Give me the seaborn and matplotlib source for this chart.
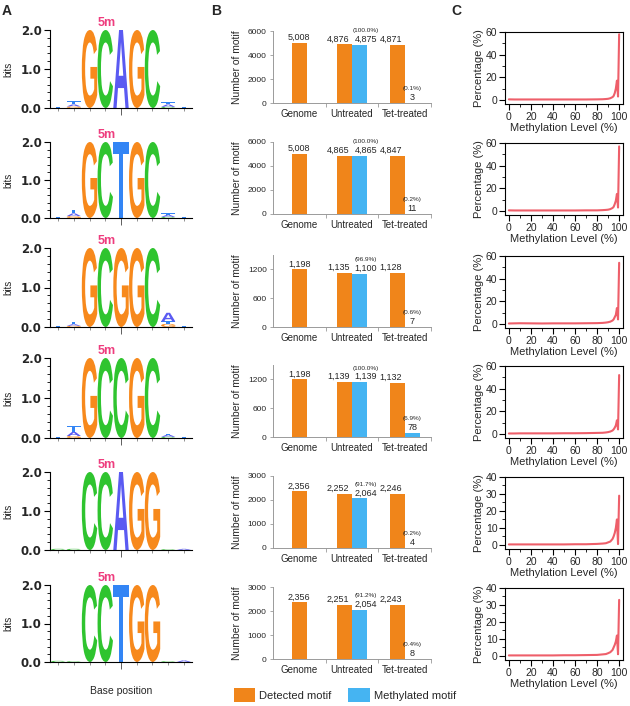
import numpy as np
import pandas as pd
import matplotlib
matplotlib.use("Agg")
import matplotlib.pyplot as plt
import seaborn as sns
from matplotlib.textpath import TextPath
from matplotlib.patches import PathPatch, Patch
from matplotlib.font_manager import FontProperties
import matplotlib.transforms as mtransforms
from matplotlib.ticker import MultipleLocator, FixedLocator

# ---------------- data ----------------
motifs = ["GCAGC", "GCTGC", "GCGGC", "GCCGC", "CCAGG", "CCTGG"]
core_bits = [2.0, 2.0, 2.0, 2.0, 2.0, 2.0]
# small flanking stacks (bottom -> top) at positions 1, 2, 8, 9
flank1 = [[("T", 0.02)], [("T", 0.02)], [("T", 0.02)], [("T", 0.02)], [("C", 0.03)], [("C", 0.03)]]
flank2 = [[("G", 0.04), ("A", 0.05), ("T", 0.08)],
          [("G", 0.05), ("A", 0.07), ("T", 0.10)],
          [("G", 0.03), ("A", 0.04), ("T", 0.06)],
          [("G", 0.05), ("A", 0.10), ("T", 0.14)],
          [("C", 0.03)], [("C", 0.02)]]
flank8 = [[("C", 0.03), ("A", 0.06), ("T", 0.06)],
          [("C", 0.03), ("A", 0.05), ("T", 0.04)],
          [("G", 0.08), ("T", 0.06), ("A", 0.22)],
          [("C", 0.03), ("A", 0.05), ("T", 0.03)],
          [("C", 0.02)], [("C", 0.02)]]
flank9 = [[("T", 0.02)], [("T", 0.02)], [("T", 0.02)], [("T", 0.02)], [("A", 0.03)], [("A", 0.04)]]

categories = ["Genome", "Untreated", "Tet-treated"]
genome = [5008, 5008, 1198, 1198, 2356, 2356]
untreated_detected = [4876, 4865, 1135, 1139, 2252, 2251]
untreated_methylated = [4875, 4865, 1100, 1139, 2064, 2054]
tet_detected = [4871, 4847, 1128, 1132, 2246, 2243]
tet_methylated = [3, 11, 7, 78, 4, 8]
bar_yticks = [[0, 2000, 4000, 6000], [0, 2000, 4000, 6000], [0, 600, 1200], [0, 600, 1200],
              [0, 1000, 2000, 3000], [0, 1000, 2000, 3000]]
bar_ymax = [6000, 6000, 1500, 1500, 3000, 3000]

meth_level = [0, 5, 10, 20, 30, 40, 50, 60, 70, 80, 85, 88, 90, 92, 94, 95, 96, 97, 98, 99, 100]
pct_rows = [
    [0.5, 0.4, 0.4, 0.4, 0.4, 0.4, 0.4, 0.4, 0.4, 0.5, 0.6, 0.8, 1.0, 1.5, 2.5, 3.5, 6.0, 10.0, 17.0, 3.0, 58.0],
    [0.5, 0.4, 0.4, 0.4, 0.4, 0.4, 0.4, 0.4, 0.5, 0.5, 0.7, 0.9, 1.1, 1.6, 2.6, 3.6, 6.0, 9.0, 15.0, 3.0, 57.0],
    [0.4, 0.5, 0.6, 0.5, 0.4, 0.5, 0.5, 0.5, 0.6, 0.7, 0.9, 1.2, 1.5, 2.0, 3.0, 4.0, 6.0, 8.0, 14.0, 4.0, 54.0],
    [0.4, 0.4, 0.5, 0.5, 0.5, 0.5, 0.6, 0.6, 0.7, 0.9, 1.0, 1.3, 1.6, 2.1, 3.0, 4.0, 5.5, 7.5, 12.0, 4.0, 52.0],
    [0.3, 0.3, 0.3, 0.3, 0.3, 0.3, 0.3, 0.4, 0.4, 0.6, 0.8, 1.0, 1.5, 2.0, 3.5, 5.0, 7.0, 10.0, 15.0, 0.5, 29.0],
    [0.3, 0.3, 0.3, 0.3, 0.3, 0.3, 0.4, 0.4, 0.5, 0.6, 0.9, 1.1, 1.6, 2.2, 3.5, 5.0, 6.5, 8.5, 12.0, 1.0, 33.0],
]
pct_yticks = [[0, 20, 40, 60]] * 4 + [[0, 10, 20, 30, 40]] * 2
pct_ymax = [60, 60, 60, 60, 40, 40]

# ---------------- style ----------------
sns.set_theme(style="ticks")
plt.rcParams["font.family"] = ["Liberation Sans", "DejaVu Sans"]

letter_colors = {"G": "#F7891C", "C": "#2FC42F", "A": "#5A5AF2", "T": "#3385F5"}
ORANGE = "#F0851A"
BLUE = "#45B4F2"
LINE = "#EE5F6A"

W, H = 630, 706
fig = plt.figure(figsize=(W / 100, H / 100), dpi=100)


def rect(l, t, r, b):
    return [l / W, 1 - b / H, (r - l) / W, (b - t) / H]


fp_logo = FontProperties(family="Liberation Sans", weight="bold")


def draw_letter(ax, ch, xc, y0, w, h, color):
    if h <= 0:
        return
    tp = TextPath((0, 0), ch, size=1, prop=fp_logo)
    bb = tp.get_extents()
    t = (mtransforms.Affine2D().translate(-bb.x0, -bb.y0)
         .scale(w / bb.width, h / bb.height).translate(xc - w / 2, y0))
    ax.add_patch(PathPatch(t.transform_path(tp), fc=color, ec="none", lw=0))


def draw_stack(ax, pos, stack, w):
    y = 0.0
    for ch, h in stack:
        draw_letter(ax, ch, pos, y, w, h, letter_colors[ch])
        y += h


logo_tops = [30, 142, 248, 358, 472, 585]
logo_bots = [108, 218, 327, 438, 550, 662]
bar_bots = [103, 214, 327, 437, 548, 659]

for i in range(6):
    # ---------- A: sequence logo ----------
    ax = fig.add_axes(rect(50, logo_tops[i], 192, logo_bots[i]))
    ax.set_xlim(0.49, 9.51)
    ax.set_ylim(0, 2.0)
    for k, ch in enumerate(motifs[i]):
        draw_letter(ax, ch, 3 + k, 0, 0.98, core_bits[i], letter_colors[ch])
    draw_stack(ax, 1, flank1[i], 0.9)
    draw_stack(ax, 2, flank2[i], 0.9)
    draw_stack(ax, 8, flank8[i], 0.9)
    draw_stack(ax, 9, flank9[i], 0.9)
    ax.text(4.1, 2.02, "5m", color="#EE3D7E", fontsize=9, fontweight="bold",
            ha="center", va="bottom", clip_on=False)
    sns.despine(ax=ax)
    for s in ("left", "bottom"):
        ax.spines[s].set_color("black")
        ax.spines[s].set_linewidth(0.8)
    ax.yaxis.set_major_locator(FixedLocator([0, 1, 2]))
    ax.yaxis.set_minor_locator(MultipleLocator(0.2))
    ax.set_yticklabels(["0.0", "1.0", "2.0"], fontsize=8.5, fontweight="bold",
                       family="DejaVu Sans")
    ax.xaxis.set_major_locator(FixedLocator([5]))
    ax.xaxis.set_minor_locator(FixedLocator([1, 2, 3, 4, 6, 7, 8, 9]))
    ax.set_xticklabels([])
    ax.tick_params(axis="y", which="major", length=4, width=0.8, color="black", pad=2)
    ax.tick_params(axis="y", which="minor", length=2, width=0.6, color="black")
    ax.tick_params(axis="x", which="major", length=5, width=0.6, color="#444444")
    ax.tick_params(axis="x", which="minor", length=2.5, width=0.5, color="#666666")
    ax.set_ylabel("bits", fontsize=7, labelpad=1)
    ax.yaxis.set_label_coords(-0.26, 0.5)
    ax.set_facecolor("none")
    if i == 5:
        ax.set_xlabel("Base position", fontsize=7.5, labelpad=9)

    # ---------- B: bar chart ----------
    bx = fig.add_axes(rect(273, bar_bots[i] - 72, 431, bar_bots[i]))
    bw = 0.285
    det = [genome[i], untreated_detected[i], tet_detected[i]]
    met = [None, untreated_methylated[i], tet_methylated[i]]
    xs_det = [0, 1 - bw / 2, 2 - bw / 2]
    xs_met = [1 + bw / 2, 2 + bw / 2]
    bx.bar(xs_det, det, width=bw, color=ORANGE, linewidth=0)
    bx.bar(xs_met, met[1:], width=bw, color=BLUE, linewidth=0)
    for j, (xv, v) in enumerate(zip(xs_det, det)):
        dx = 0 if j == 0 else -4.5
        bx.annotate(f"{v:,}", (xv, v), xytext=(dx, 0.8), textcoords="offset points",
                    ha="center", va="bottom", fontsize=6.5)
    for j, (xv, v, d) in enumerate(zip(xs_met, met[1:], det[1:])):
        dx = 4.5 if j == 0 else 0
        bx.annotate(f"{v:,}", (xv, v), xytext=(dx, 0.8), textcoords="offset points",
                    ha="center", va="bottom", fontsize=6.5)
        bx.annotate(f"({100 * v / d:.1f}%)", (xv, v), xytext=(dx, 8.5), textcoords="offset points",
                    ha="center", va="bottom", fontsize=4.6)
    bx.set_xlim(-0.5, 2.5)
    bx.set_ylim(0, bar_ymax[i])
    bx.set_yticks(bar_yticks[i])
    bx.set_yticklabels([str(t) for t in bar_yticks[i]], fontsize=6)
    bx.set_xticks([0, 1, 2])
    bx.set_xticklabels(categories, fontsize=7)
    bx.xaxis.set_minor_locator(FixedLocator([0.5, 1.5, 2.5]))
    bx.tick_params(axis="x", which="major", length=0, pad=4)
    bx.tick_params(axis="x", which="minor", length=3, width=0.6, color="#9A9A9A")
    bx.tick_params(axis="y", length=2.5, width=0.6, color="#9A9A9A", pad=2)
    sns.despine(ax=bx)
    for s in ("left", "bottom"):
        bx.spines[s].set_color("#9A9A9A")
        bx.spines[s].set_linewidth(0.7)
    bx.set_ylabel("Number of motif", fontsize=7.5, labelpad=2)
    bx.yaxis.set_label_coords(-0.195, 0.5)
    bx.set_facecolor("none")

    # ---------- C: methylation level distribution ----------
    cx = fig.add_axes(rect(505, bar_bots[i] - 71, 623, bar_bots[i] + 1))
    df = pd.DataFrame({"level": meth_level, "pct": pct_rows[i]})
    sns.lineplot(data=df, x="level", y="pct", ax=cx, color=LINE, lw=1.5)
    cx.set_xlim(-3.5, 103.5)
    cx.set_ylim(-0.06 * pct_ymax[i], pct_ymax[i])
    cx.set_xticks([0, 20, 40, 60, 80, 100])
    cx.set_yticks(pct_yticks[i])
    cx.xaxis.set_minor_locator(MultipleLocator(10))
    cx.yaxis.set_minor_locator(MultipleLocator(pct_yticks[i][1] / 2))
    cx.tick_params(axis="both", which="major", labelsize=7.5, length=4, width=0.8,
                   color="black", pad=1.5)
    cx.tick_params(axis="both", which="minor", length=2, width=0.6, color="black")
    for s in cx.spines.values():
        s.set_visible(True)
        s.set_color("black")
        s.set_linewidth(0.8)
    cx.set_xlabel("Methylation Level (%)", fontsize=8, labelpad=1)
    cx.set_ylabel("Percentage (%)", fontsize=8, labelpad=1)
    cx.set_facecolor("none")

# panel letters
fig.text(2 / W, 1 - 11 / H, "A", fontsize=10, fontweight="bold", va="center", ha="left")
fig.text(211 / W, 1 - 11 / H, "B", fontsize=10, fontweight="bold", va="center", ha="left")
fig.text(451 / W, 1 - 11 / H, "C", fontsize=10, fontweight="bold", va="center", ha="left")

# legend
handles = [Patch(facecolor=ORANGE, edgecolor="none"), Patch(facecolor=BLUE, edgecolor="none")]
fig.legend(handles, ["Detected motif", "Methylated motif"], loc="center",
           bbox_to_anchor=(345 / W, 1 - 695 / H), ncol=2, frameon=False, fontsize=8,
           handlelength=1.9, handleheight=1.6, handletextpad=0.4, columnspacing=1.5)

fig.savefig("out.png", dpi=100)
